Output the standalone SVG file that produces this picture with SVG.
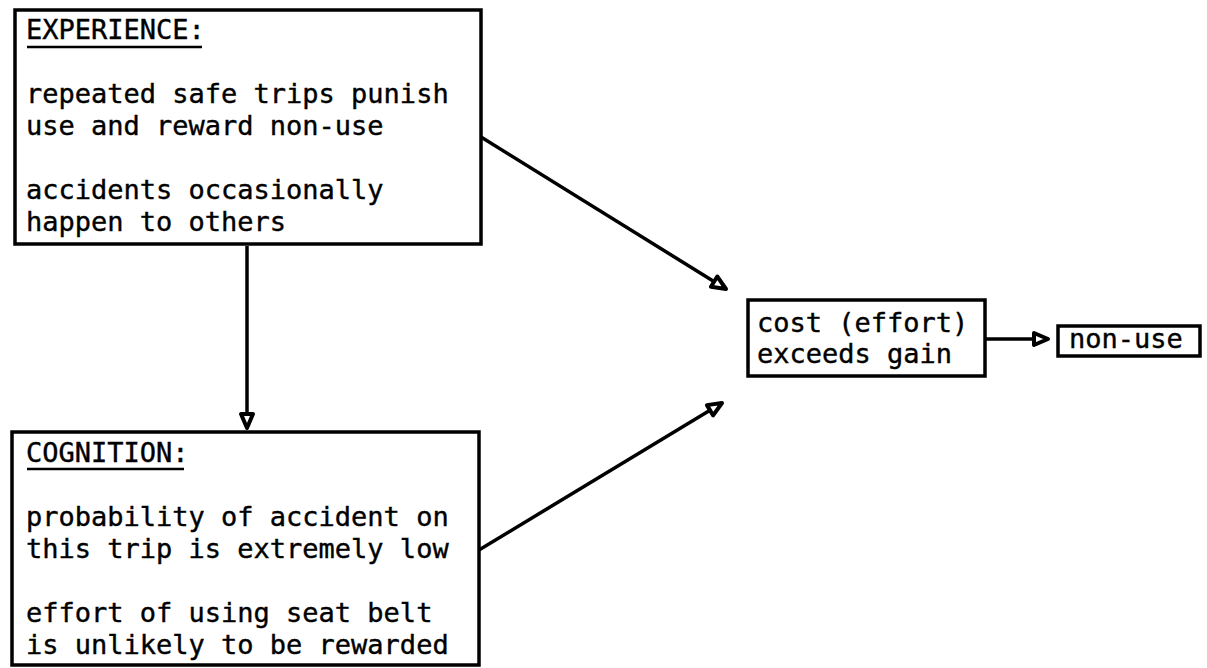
<svg xmlns="http://www.w3.org/2000/svg" width="1207" height="668" viewBox="0 0 1207 668">
<defs>
<style>
.box{fill:none;stroke:#000;stroke-width:3.5}
.t{font-family:"DejaVu Sans Mono","Liberation Mono",monospace;font-size:27px;fill:#000;stroke:#000;stroke-width:0.4}
.ul{stroke:#000;stroke-width:2.5}
.con{stroke:#000;stroke-width:3.5;fill:none;marker-end:url(#ah)}
</style>
<marker id="ah" viewBox="0 0 18 16" refX="16" refY="8" markerWidth="18" markerHeight="16" orient="auto" markerUnits="userSpaceOnUse" style="overflow:visible">
<path d="M2,2 L16,8 L2,14 Z" fill="#fff" stroke="#000" stroke-width="4" stroke-linejoin="round"/>
</marker>
</defs>
<rect width="1207" height="668" fill="#fff"/>
<g id="experience">
<rect class="box" x="15" y="10" width="466" height="234"/>
<text class="t" x="26" y="39">EXPERIENCE:</text>
<line class="ul" x1="27" y1="47" x2="202" y2="47"/>
<text class="t" x="26" y="103">repeated safe trips punish</text>
<text class="t" x="26" y="135">use and reward non-use</text>
<text class="t" x="26" y="199">accidents occasionally</text>
<text class="t" x="26" y="231">happen to others</text>
</g>
<g id="cognition">
<rect class="box" x="12" y="432" width="467" height="233"/>
<text class="t" x="26" y="462">COGNITION:</text>
<line class="ul" x1="27" y1="469" x2="184" y2="469"/>
<text class="t" x="26" y="526">probability of accident on</text>
<text class="t" x="26" y="558">this trip is extremely low</text>
<text class="t" x="26" y="622">effort of using seat belt</text>
<text class="t" x="26" y="654">is unlikely to be rewarded</text>
</g>
<g id="cost">
<rect class="box" x="748" y="300" width="237" height="76"/>
<text class="t" x="757" y="332">cost (effort)</text>
<text class="t" x="757" y="363">exceeds gain</text>
</g>
<g id="nonuse">
<rect class="box" x="1058" y="326" width="142" height="30"/>
<text class="t" x="1069" y="348">non-use</text>
</g>
<g id="connectors">
<line class="con" x1="481" y1="137" x2="726" y2="289"/>
<line class="con" x1="247" y1="246" x2="247" y2="428"/>
<line class="con" x1="479" y1="550" x2="722" y2="403"/>
<line class="con" x1="985" y1="339" x2="1048" y2="339"/>
</g>
</svg>
